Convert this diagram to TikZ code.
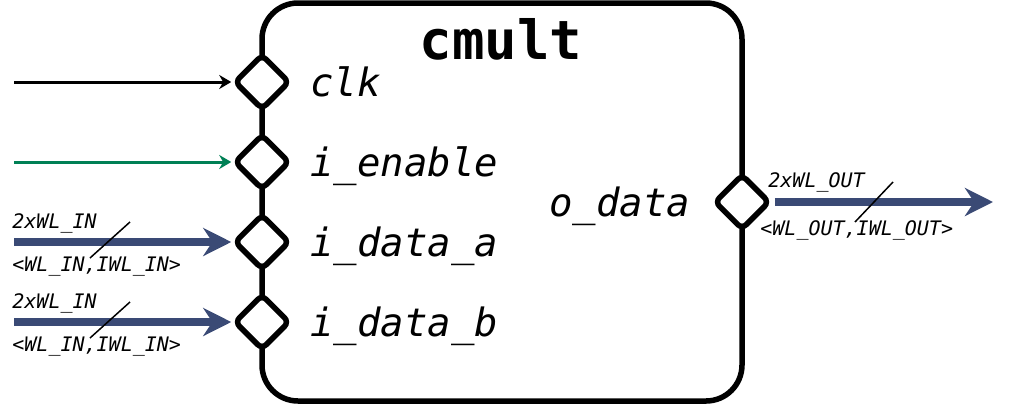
\documentclass[tikz,border=0pt]{standalone}
\usepackage{fontspec}
\setmonofont{DejaVu Sans Mono}
\usetikzlibrary{arrows.meta,shapes.geometric}
\definecolor{busblue}{HTML}{3A4A75}
\definecolor{enagreen}{HTML}{008055}

\begin{document}
\begin{tikzpicture}[x=0.5pt,y=-0.5pt,
  port node/.style={diamond,draw,fill=white,line width=2.75pt,minimum width=28pt,
    minimum height=28pt,inner sep=0pt,rounded corners=3pt},
  sig label/.style={font=\ttfamily\itshape\fontsize{19.5}{20}\selectfont,anchor=base west,inner sep=0pt},
  bus label/.style={font=\ttfamily\itshape\fontsize{10}{11}\selectfont,anchor=base west,inner sep=0pt},
  wire/.style={line width=1.5pt,-{Stealth[length=6pt,width=7pt]}},
  bus/.style={line width=4pt,busblue,-{Stealth[length=14pt,width=14pt]}}]

  \useasboundingbox (0,0) rectangle (1012,408);

  \node[draw,line width=2.75pt,rounded corners=18pt,minimum width=240pt,minimum height=199pt,inner sep=0pt] (box) at (502,202) {};
  \node[font=\ttfamily\bfseries\fontsize{27}{28}\selectfont,anchor=base,inner sep=0pt] (title) at (501,59) {cmult};

  \node[port node] (clk) at (262,82) {};
  \node[port node] (ena) at (262,162) {};
  \node[port node] (da) at (262,242) {};
  \node[port node] (db) at (262,322) {};
  \node[port node] (odata) at (742,202) {};

  \node[sig label] (clk lbl) at (310,96) {clk};
  \node[sig label] (ena lbl) at (310,176) {i\_enable};
  \node[sig label] (da lbl) at (310,256) {i\_data\_a};
  \node[sig label] (db lbl) at (310,336) {i\_data\_b};
  \node[sig label] (odata lbl) at (549,216) {o\_data};

  % inputs
  \coordinate (clk in) at (14,82);
  \coordinate (ena in) at (14,162);
  \coordinate (da in) at (14,242);
  \coordinate (db in) at (14,322);
  \coordinate (odata out) at (993,202);

  \draw[wire] (clk in) -- (clk);
  \draw[wire,enagreen] (ena in) -- (ena);
  \draw[bus] (da in) -- (da);
  \draw[bus] (db in) -- (db);
  \draw[bus,shorten <=1pt] (odata) -- (odata out);

  % bus widths
  \node[bus label] at (12,228) {2xWL\_IN};
  \node[bus label] at (12,271) {<WL\_IN,IWL\_IN>};
  \draw[line width=0.75pt] (90,258) -- (130,222);
  \node[bus label] at (12,308) {2xWL\_IN};
  \node[bus label] at (12,351) {<WL\_IN,IWL\_IN>};
  \draw[line width=0.75pt] (90,338) -- (130,302);
  \node[bus label] at (768,187) {2xWL\_OUT};
  \node[bus label] at (760,235) {<WL\_OUT,IWL\_OUT>};
  \draw[line width=0.75pt] (855,222) -- (893,182);
\end{tikzpicture}
\end{document}
